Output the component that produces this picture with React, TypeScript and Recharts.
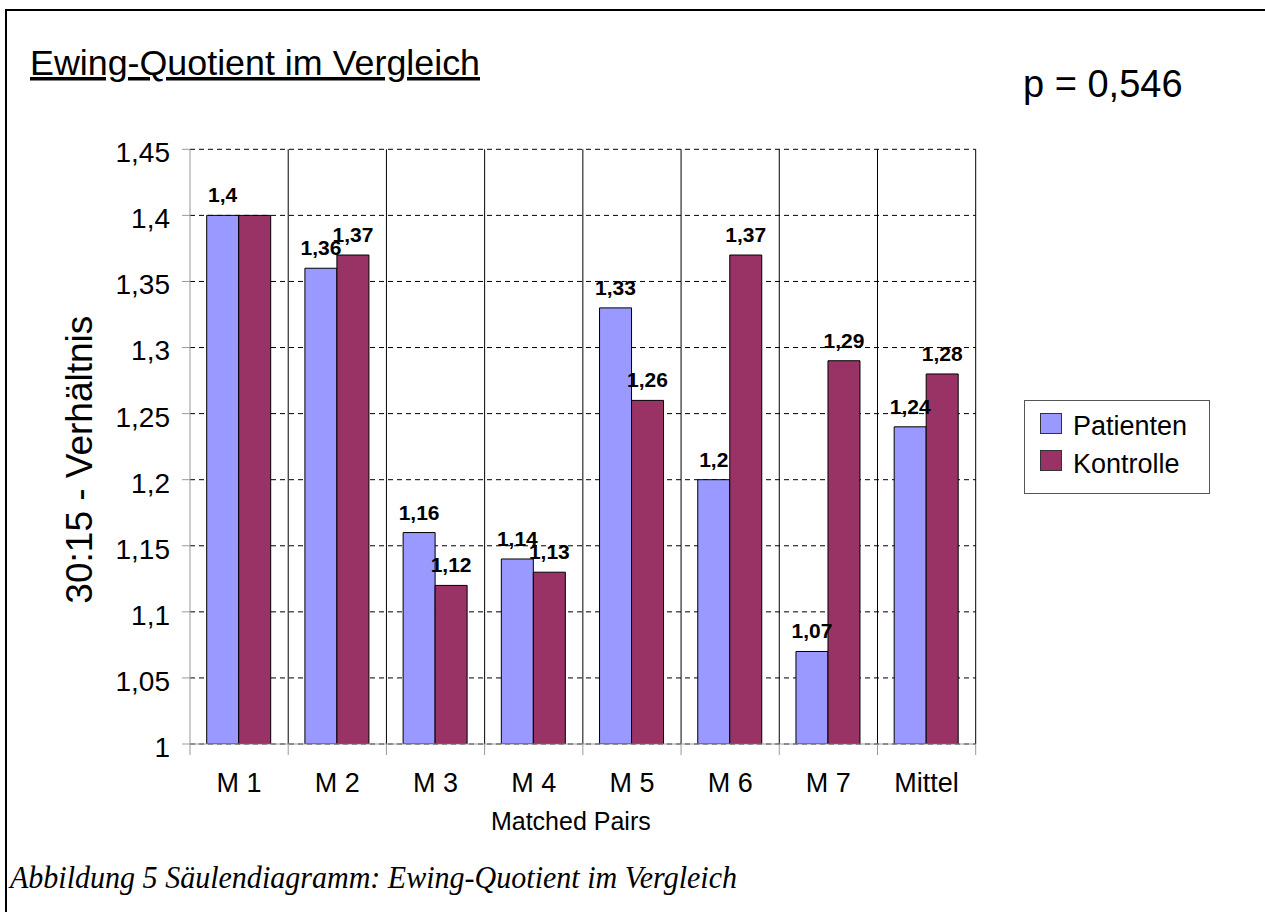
import React from 'react';
import { BarChart, Bar, XAxis, YAxis, CartesianGrid, Legend, LabelList } from 'recharts';

const categories = ['M 1', 'M 2', 'M 3', 'M 4', 'M 5', 'M 6', 'M 7', 'Mittel'];
const patienten = [1.4, 1.36, 1.16, 1.14, 1.33, 1.2, 1.07, 1.24];
const kontrolle = [1.4, 1.37, 1.12, 1.13, 1.26, 1.37, 1.29, 1.28];
const kontrolleLabelShown = [false, true, true, true, true, true, true, true];
const yTicks = [1, 1.05, 1.1, 1.15, 1.2, 1.25, 1.3, 1.35, 1.4, 1.45];
const seriesNames = ['Patienten', 'Kontrolle'];
const seriesColors = ['#9999FF', '#993366'];
const titleText = 'Ewing-Quotient im Vergleich';
const pText = 'p = 0,546';
const yLabelText = '30:15 - Verhältnis';
const xLabelText = 'Matched Pairs';
const captionText = 'Abbildung 5 Säulendiagramm: Ewing-Quotient im Vergleich';

const data = categories.map((c, i) => ({
  name: c,
  patienten: patienten[i],
  kontrolle: kontrolle[i],
  kontLabel: kontrolleLabelShown[i] ? kontrolle[i] : null,
}));

const SANS = '"Liberation Sans", Arial, sans-serif';
const SERIF = '"Liberation Serif", "Times New Roman", serif';
const fmt = (v: any) => (v === null || v === undefined ? '' : String(v).replace('.', ','));

const X_TICK_SIZE = 11;
const X_TICK_MARGIN = 18;

const XTick = (props: any) => {
  const { x, y, payload, index, width } = props;
  const band = width / categories.length;
  const axisY = y - X_TICK_SIZE - X_TICK_MARGIN;
  return (
    <g>
      <line x1={x - band / 2} x2={x - band / 2} y1={axisY} y2={axisY + X_TICK_SIZE} stroke="#999" />
      {index === categories.length - 1 && (
        <line x1={x + band / 2} x2={x + band / 2} y1={axisY} y2={axisY + X_TICK_SIZE} stroke="#999" />
      )}
      <text x={x} y={y} dy="0.71em" textAnchor="middle" fontSize={27} fontFamily={SANS} fill="#000">
        {payload.value}
      </text>
    </g>
  );
};

const YLabel = (props: any) => {
  const { viewBox } = props;
  const bx = viewBox.x + 2;
  const cy = viewBox.y + viewBox.height / 2 + 13;
  return (
    <text
      x={bx}
      y={cy}
      transform={`rotate(-90, ${bx}, ${cy})`}
      textAnchor="middle"
      fontSize={37}
      fontFamily={SANS}
      fill="#000"
    >
      {yLabelText}
    </text>
  );
};

const XLabel = (props: any) => {
  const { viewBox } = props;
  const cx = viewBox.x + viewBox.width / 2 - 12;
  return (
    <text x={cx} y={830} textAnchor="middle" fontSize={25} fontFamily={SANS} fill="#000">
      {xLabelText}
    </text>
  );
};

const LegendBox = (props: any) => {
  const payload = [...(props.payload || [])].sort(
    (a: any, b: any) => seriesNames.indexOf(a.value) - seriesNames.indexOf(b.value)
  );
  return (
    <svg width={186} height={94} style={{ display: 'block' }}>
      <rect x={0.5} y={0.5} width={185} height={93} fill="#fff" stroke="#555" />
      {payload.map((p: any, i: number) => (
        <g key={i}>
          <rect x={16.5} y={13.5 + i * 37} width={21} height={20} fill={p.color} stroke="#333" />
          <text x={49} y={35 + i * 37.5} fontSize={27} fontFamily={SANS} fill="#000">
            {p.value}
          </text>
        </g>
      ))}
    </svg>
  );
};

export default function App() {
  return (
    <div style={{ position: 'absolute', left: 0, top: 0, width: 1265, height: 912, background: '#fff', overflow: 'hidden' }}>
      <BarChart
        width={1265}
        height={912}
        data={data}
        margin={{ top: 149.3, right: 289.3, bottom: 78, left: 90 }}
        barCategoryGap="17%"
        barGap={0}
      >
        <CartesianGrid vertical={false} stroke="#000" strokeDasharray="5 4" />
        <CartesianGrid
          horizontal={false}
          stroke="#000"
          verticalCoordinatesGenerator={(p: any) =>
            categories.map((_, i) => p.offset.left + ((i + 1) * p.offset.width) / categories.length)
          }
        />
        <XAxis
          dataKey="name"
          height={90}
          tickLine={false}
          tickSize={X_TICK_SIZE}
          tickMargin={X_TICK_MARGIN}
          axisLine={{ stroke: '#999' }}
          tick={<XTick />}
          interval={0}
          label={<XLabel />}
        />
        <YAxis
          width={100}
          domain={[1, 1.45]}
          ticks={yTicks}
          type="number"
          allowDataOverflow
          tickFormatter={fmt}
          tickSize={8}
          tickMargin={12}
          tickLine={{ stroke: '#999' }}
          axisLine={{ stroke: '#999' }}
          tick={{ fill: '#000', fontSize: 28, fontFamily: SANS, dy: 3 }}
          label={<YLabel />}
        />
        <Legend
          layout="vertical"
          align="center"
          verticalAlign="middle"
          wrapperStyle={{ left: 1024, top: 400, width: 186, height: 94 }}
          content={<LegendBox />}
        />
        <Bar dataKey="patienten" name={seriesNames[0]} fill={seriesColors[0]} stroke="#000" strokeWidth={1} isAnimationActive={false}>
          <LabelList dataKey="patienten" position="top" offset={13} formatter={fmt} style={{ fontSize: 21, fontWeight: 'bold', fontFamily: SANS, fill: '#000' }} />
        </Bar>
        <Bar dataKey="kontrolle" name={seriesNames[1]} fill={seriesColors[1]} stroke="#000" strokeWidth={1} isAnimationActive={false}>
          <LabelList dataKey="kontLabel" position="top" offset={13} formatter={fmt} style={{ fontSize: 21, fontWeight: 'bold', fontFamily: SANS, fill: '#000' }} />
        </Bar>
      </BarChart>
      <svg width={1265} height={912} style={{ position: 'absolute', left: 0, top: 0, pointerEvents: 'none' }}>
        <line x1={5} y1={10} x2={1265} y2={10} stroke="#000" strokeWidth={2} />
        <line x1={6} y1={9} x2={6} y2={912} stroke="#000" strokeWidth={2} />
        <text x={30} y={75} fontSize={35} fontFamily={SANS} fill="#000" textLength={450} lengthAdjust="spacingAndGlyphs" style={{ textDecoration: 'underline' }}>
          {titleText}
        </text>
        <text x={1023} y={97} fontSize={38} fontFamily={SANS} fill="#000">
          {pText}
        </text>
        <text x={10} y={888} fontSize={32} fontFamily={SERIF} fontStyle="italic" fill="#000" textLength={727} lengthAdjust="spacingAndGlyphs">
          {captionText}
        </text>
      </svg>
    </div>
  );
}
